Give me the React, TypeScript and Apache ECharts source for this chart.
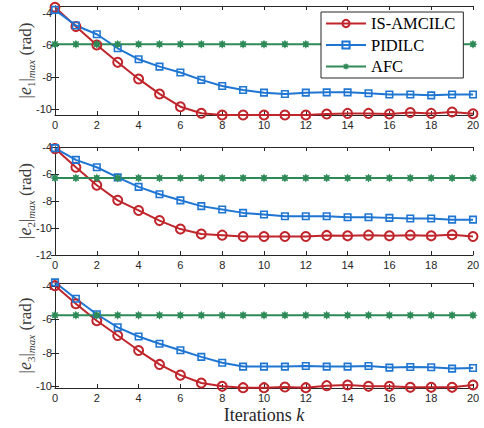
import React, { useEffect, useRef } from "react";
import * as echarts from "echarts";

const iterations = [0, 1, 2, 3, 4, 5, 6, 7, 8, 9, 10, 11, 12, 13, 14, 15, 16, 17, 18, 19, 20];
const seriesNames = ["IS-AMCILC", "PIDILC", "AFC"];
const xTicks = [0, 2, 4, 6, 8, 10, 12, 14, 16, 18, 20];

const e1Amcilc = [-3.63, -4.84, -5.99, -7.08, -8.12, -9.06, -9.86, -10.27, -10.38, -10.38, -10.38, -10.38, -10.38, -10.32, -10.28, -10.28, -10.32, -10.23, -10.28, -10.19, -10.3];
const e1Pidilc = [-3.79, -4.77, -5.32, -6.2, -6.89, -7.35, -7.72, -8.18, -8.56, -8.81, -8.98, -9.06, -8.98, -8.96, -8.96, -9.02, -9.1, -9.1, -9.15, -9.1, -9.1];
const e1Afc = [-5.95, -5.95, -5.95, -5.95, -5.95, -5.95, -5.95, -5.95, -5.95, -5.95, -5.95, -5.95, -5.95, -5.95, -5.95, -5.95, -5.95, -5.95, -5.95, -5.95, -5.95];

const e2Amcilc = [-4.12, -5.5, -6.83, -7.95, -8.7, -9.45, -10.08, -10.45, -10.53, -10.63, -10.63, -10.63, -10.63, -10.55, -10.58, -10.53, -10.58, -10.53, -10.58, -10.5, -10.63];
const e2Pidilc = [-4.08, -4.95, -5.5, -6.25, -6.95, -7.5, -7.95, -8.38, -8.63, -8.88, -9.0, -9.13, -9.13, -9.13, -9.2, -9.2, -9.25, -9.3, -9.3, -9.38, -9.38];
const e2Afc = [-6.3, -6.3, -6.3, -6.3, -6.3, -6.3, -6.3, -6.3, -6.3, -6.3, -6.3, -6.3, -6.3, -6.3, -6.3, -6.3, -6.3, -6.3, -6.3, -6.3, -6.3];

const e3Amcilc = [-3.98, -5.06, -6.08, -6.96, -7.86, -8.69, -9.33, -9.8, -10.0, -10.08, -10.08, -10.04, -10.08, -9.96, -9.92, -10.0, -10.0, -10.06, -10.06, -10.06, -9.92];
const e3Pidilc = [-3.78, -4.76, -5.69, -6.47, -7.02, -7.45, -7.84, -8.24, -8.59, -8.82, -8.82, -8.82, -8.78, -8.82, -8.82, -8.78, -8.88, -8.84, -8.86, -8.94, -8.9];
const e3Afc = [-5.75, -5.75, -5.75, -5.75, -5.75, -5.75, -5.75, -5.75, -5.75, -5.75, -5.75, -5.75, -5.75, -5.75, -5.75, -5.75, -5.75, -5.75, -5.75, -5.75, -5.75];

const panelData = [
  [e1Amcilc, e1Pidilc, e1Afc],
  [e2Amcilc, e2Pidilc, e2Afc],
  [e3Amcilc, e3Pidilc, e3Afc],
];
const panelIndex = ["1", "2", "3"];
const yMin = [-10.38, -12, -10.1];
const yMax = [-3.55, -4, -3.82];
const yTicks = [
  [-10, -8, -6, -4],
  [-12, -10, -8, -6, -4],
  [-10, -8, -6, -4],
];

const colors = ["#bf252b", "#1f76d2", "#2e8b57"];
const STAR =
  "path://M10,0 L12.3,4.45 L17.07,2.93 L15.55,7.7 L20,10 L15.55,12.3 L17.07,17.07 L12.3,15.55 L10,20 L7.7,15.55 L2.93,17.07 L4.45,12.3 L0,10 L4.45,7.7 L2.93,2.93 L7.7,4.45 Z";

const AX = "#262626";
const LBL = "#3a3a3a";
const SANS = "'Liberation Sans', Arial, sans-serif";
const SERIF = "'Liberation Serif', 'Times New Roman', serif";

export default function App() {
  const ref = useRef<HTMLDivElement>(null);
  useEffect(() => {
    const chart = echarts.init(ref.current!, null, { renderer: "svg" });
    const tops = [6, 147, 283];
    const heights = [109, 108, 105];
    const grids = tops.map((t, i) => ({
      left: 55,
      right: 11,
      top: t,
      height: heights[i],
      containLabel: false,
      outerBoundsMode: "none",
    }));
    const xAxes: any[] = [];
    const yAxes: any[] = [];
    const series: any[] = [];
    for (let p = 0; p < 3; p++) {
      xAxes.push({
        type: "value",
        gridIndex: p,
        min: 0,
        max: 20,
        interval: 2,
        position: "bottom",
        name: p === 2 ? "{n|Iterations }{i|k}" : "",
        nameLocation: "middle",
        nameGap: 18,
        nameTextStyle: {
          fontFamily: SERIF,
          fontSize: 18,
          color: AX,
          rich: {
            n: { fontFamily: SERIF, fontSize: 18, color: AX },
            i: { fontFamily: SERIF, fontStyle: "italic", fontSize: 18, color: AX },
          },
        },
        axisLine: { lineStyle: { color: AX, width: 1 } },
        axisTick: { inside: true, length: 4, lineStyle: { color: AX } },
        axisLabel: { fontFamily: SANS, fontSize: 11, color: AX, margin: 4, customValues: xTicks },
        splitLine: { show: false },
      });
      xAxes.push({
        type: "value",
        gridIndex: p,
        min: 0,
        max: 20,
        interval: 2,
        position: "top",
        axisLine: { lineStyle: { color: AX, width: 1 } },
        axisTick: { inside: true, length: 4, lineStyle: { color: AX } },
        axisLabel: { show: false },
        splitLine: { show: false },
      });
      const nameStr = `{n||}{i|e}{s|${panelIndex[p]}}{n||}{si|max}{n| (rad)}`;
      yAxes.push({
        type: "value",
        gridIndex: p,
        min: yMin[p],
        max: yMax[p],
        position: "left",
        name: nameStr,
        nameLocation: "middle",
        nameGap: 19,
        nameMoveOverlap: false,
        nameRotate: 90,
        nameTextStyle: {
          color: LBL,
          fontFamily: SERIF,
          fontSize: 17,
          rich: {
            n: { fontFamily: SERIF, fontSize: 17, color: LBL, lineHeight: 22 },
            i: { fontFamily: SERIF, fontStyle: "italic", fontSize: 18, color: LBL, lineHeight: 22 },
            s: { fontFamily: SERIF, fontSize: 11, color: LBL, lineHeight: 11, verticalAlign: "bottom" },
            si: { fontFamily: SERIF, fontStyle: "italic", fontSize: 11, color: LBL, lineHeight: 11, verticalAlign: "bottom" },
          },
        },
        axisLine: { show: true, lineStyle: { color: AX, width: 1 } },
        axisTick: { show: true, inside: true, length: 4, lineStyle: { color: AX }, customValues: yTicks[p] },
        axisLabel: { fontFamily: SANS, fontSize: 11, color: AX, margin: 3, customValues: yTicks[p] },
        splitLine: { show: false },
      });
      yAxes.push({
        type: "value",
        gridIndex: p,
        min: yMin[p],
        max: yMax[p],
        position: "right",
        axisLine: { show: true, lineStyle: { color: AX, width: 1 } },
        axisTick: { show: true, inside: true, length: 4, lineStyle: { color: AX }, customValues: yTicks[p] },
        axisLabel: { show: false },
        splitLine: { show: false },
      });
      const symbols = ["circle", "rect", STAR];
      const sizes = [9, 6.5, 9];
      for (let s = 0; s < 3; s++) {
        const hollow = s < 2;
        series.push({
          type: "line",
          name: seriesNames[s],
          xAxisIndex: p * 2,
          yAxisIndex: p * 2,
          data: iterations.map((k, i) => [k, panelData[p][s][i]]),
          symbol: symbols[s],
          symbolSize: sizes[s],
          showAllSymbol: true,
          clip: false,
          lineStyle: { color: colors[s], width: 2 },
          itemStyle: hollow
            ? { color: "rgba(255,255,255,0)", borderColor: colors[s], borderWidth: s === 0 ? 2 : 1.6 }
            : { color: colors[s], borderColor: colors[s], borderWidth: 0 },
          emphasis: { disabled: true },
        });
      }
    }
    chart.setOption({
      animation: false,
      backgroundColor: "#ffffff",
      grid: grids,
      xAxis: xAxes,
      yAxis: yAxes,
      series,
      legend: {
        data: seriesNames,
        orient: "vertical",
        left: 321,
        top: 12,
        padding: [3, 8, 3, 4],
        itemGap: 4.5,
        itemWidth: 40,
        itemHeight: 9,
        itemTextGap: 3,
        backgroundColor: "#ffffff",
        borderColor: AX,
        borderWidth: 1,
        borderRadius: 0,
        selectedMode: false,
        textStyle: { fontFamily: SERIF, fontSize: 16.5, color: "#000", lineHeight: 16 },
      },
    });
    return () => chart.dispose();
  }, []);
  return <div ref={ref} style={{ position: "fixed", left: 0, top: 0, width: 484, height: 428 }} />;
}
